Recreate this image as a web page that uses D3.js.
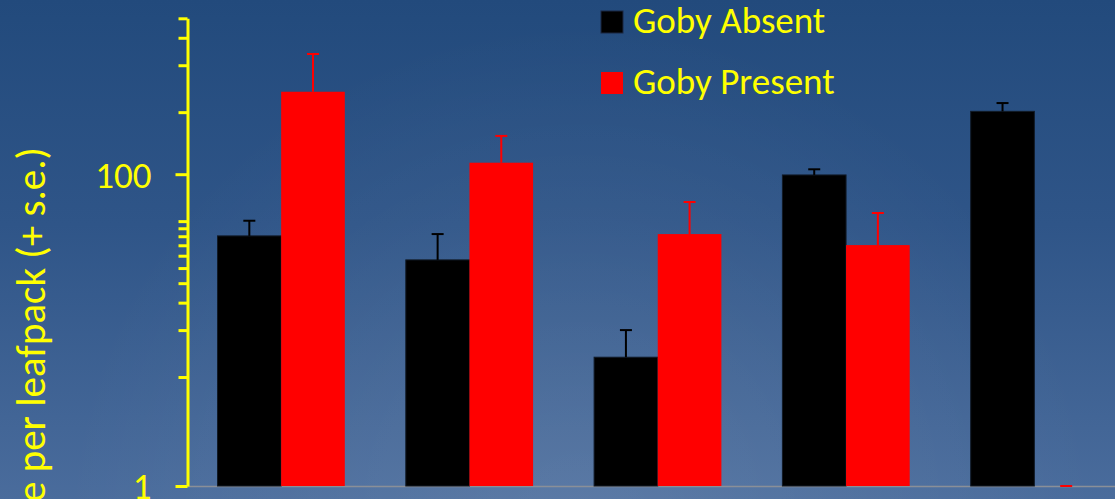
<!DOCTYPE html>
<html>
<head>
<meta charset="utf-8">
<script src="https://cdn.jsdelivr.net/npm/d3@7"></script>
<style>
  html, body { margin: 0; padding: 0; overflow: hidden; background: #234a7c; }
  svg { display: block; }
  text { font-family: Calibri, Carlito, Lato, "Open Sans", sans-serif; }
</style>
</head>
<body>
<svg id="chart" width="1115" height="499"></svg>
<script>
// Sampling groups along the x axis (no category labels are shown)
const categories = ["G1", "G2", "G3", "G4", "G5"];
const seriesNames = ["Goby Absent", "Goby Present"];

// Mean abundance per leafpack and standard error, per series
const absentMeans = [40.2, 28.2, 6.7, 98.9, 253];
const absentSE    = [10.1, 13.1, 3.3, 8.6, 33];
const presentMeans = [338, 118.5, 41.3, 35.1, 1];
const presentSE    = [252, 57.5, 25.0, 21.3, 0];

// Log-axis ticks
const majorTicks = [1, 100];
const minorTicks = [5, 10, 15, 20, 25, 30, 35, 40, 45, 50, 250, 500, 750, 1000];

const yLabel = "Abundance per leafpack (+ s.e.)";

const seriesColors = { "Goby Absent": "#000000", "Goby Present": "#ff0000" };
const yellow = "#ffff00";
const fontSize = 37;
const titleFontSize = 41;

const W = 1115, H = 499;
const svg = d3.select("#chart");

// Background
const defs = svg.append("defs");
const lin = defs.append("linearGradient").attr("id", "bgLin")
  .attr("x1", 0).attr("y1", 0).attr("x2", 0).attr("y2", 1);
lin.append("stop").attr("offset", "0%").attr("stop-color", "#224a7c");
lin.append("stop").attr("offset", "45%").attr("stop-color", "#2f5588");
lin.append("stop").attr("offset", "100%").attr("stop-color", "#4a6c9c");
const rad = defs.append("radialGradient").attr("id", "bgRad")
  .attr("gradientUnits", "userSpaceOnUse")
  .attr("cx", 580).attr("cy", 540).attr("r", 520);
rad.append("stop").attr("offset", "0%").attr("stop-color", "#ffffff").attr("stop-opacity", 0.10);
rad.append("stop").attr("offset", "100%").attr("stop-color", "#ffffff").attr("stop-opacity", 0);
svg.append("rect").attr("width", W).attr("height", H).attr("fill", "url(#bgLin)");
svg.append("rect").attr("width", W).attr("height", H).attr("fill", "url(#bgRad)");

// Scales
const x0 = d3.scaleBand().domain(categories).range([187, 1128.5])
  .paddingInner(0.324).paddingOuter(0.162);
const x1 = d3.scaleBand().domain(seriesNames).range([0, x0.bandwidth()]).padding(0);
const y = d3.scaleLog().domain([1, 1000]).range([486, 18.3]);

const rows = categories.map((c, i) => ({
  cat: c,
  values: [
    { series: "Goby Absent", mean: absentMeans[i], se: absentSE[i] },
    { series: "Goby Present", mean: presentMeans[i], se: presentSE[i] }
  ]
}));

// Baseline (x axis without ticks)
const xAxis = svg.append("g").attr("transform", `translate(0,${y(1)})`)
  .call(d3.axisBottom(x0).tickSize(0).tickFormat(""));
xAxis.select(".domain").attr("stroke", "#8a8f98").attr("stroke-width", 1.6);

// Bars
const groups = svg.append("g").selectAll("g").data(rows).join("g")
  .attr("transform", d => `translate(${x0(d.cat)},0)`);

groups.selectAll("rect").data(d => d.values).join("rect")
  .attr("x", d => x1(d.series))
  .attr("width", x1.bandwidth())
  .attr("y", d => y(d.mean))
  .attr("height", d => y(1) - y(d.mean))
  .attr("fill", d => seriesColors[d.series])
  .attr("stroke", d => d.series === "Goby Absent" ? "#111a26" : "none")
  .attr("stroke-width", 1);

// Error bars (upper only)
const eb = groups.selectAll("g.err").data(d => d.values).join("g").attr("class", "err");
eb.append("line")
  .attr("x1", d => x1(d.series) + x1.bandwidth() / 2)
  .attr("x2", d => x1(d.series) + x1.bandwidth() / 2)
  .attr("y1", d => y(d.mean))
  .attr("y2", d => y(d.mean + d.se))
  .attr("stroke", d => seriesColors[d.series]).attr("stroke-width", 2);
eb.append("line")
  .attr("x1", d => x1(d.series) + x1.bandwidth() / 2 - 6)
  .attr("x2", d => x1(d.series) + x1.bandwidth() / 2 + 6)
  .attr("y1", d => y(d.mean + d.se))
  .attr("y2", d => y(d.mean + d.se))
  .attr("stroke", d => seriesColors[d.series]).attr("stroke-width", 2);

// Y axis: minor ticks
const yMinor = svg.append("g").attr("transform", "translate(187.5,0)")
  .call(d3.axisLeft(y).tickValues(minorTicks).tickSize(9).tickSizeOuter(0).tickFormat(""));
yMinor.selectAll(".tick line").attr("stroke", yellow).attr("stroke-width", 3);
yMinor.select(".domain").attr("stroke", yellow).attr("stroke-width", 3);

// Y axis: major ticks with labels
const yMajor = svg.append("g").attr("transform", "translate(187.5,0)")
  .call(d3.axisLeft(y).tickValues(majorTicks).tickSize(12).tickSizeOuter(0)
    .tickPadding(24).tickFormat(d3.format("d")));
yMajor.select(".domain").remove();
yMajor.selectAll(".tick line").attr("stroke", yellow).attr("stroke-width", 3);
yMajor.selectAll(".tick text")
  .attr("fill", yellow).attr("font-size", fontSize)
  .attr("font-family", "Calibri, Carlito, Lato, sans-serif")
  .attr("dy", "0.35em");

// Y axis title
svg.append("text")
  .attr("transform", "translate(45,147) rotate(-90)")
  .attr("text-anchor", "end")
  .attr("fill", yellow)
  .attr("font-size", titleFontSize)
  .text(yLabel);

// Legend
const legend = svg.append("g").selectAll("g").data(seriesNames).join("g")
  .attr("transform", (d, i) => `translate(601,${11 + i * 61})`);
legend.append("rect").attr("width", 22).attr("height", 22)
  .attr("fill", d => seriesColors[d])
  .attr("stroke", d => d === "Goby Absent" ? "#1b2740" : "none");
legend.append("text").attr("x", 32).attr("y", 22)
  .attr("fill", yellow).attr("font-size", fontSize)
  .text(d => d);
</script>
</body>
</html>
